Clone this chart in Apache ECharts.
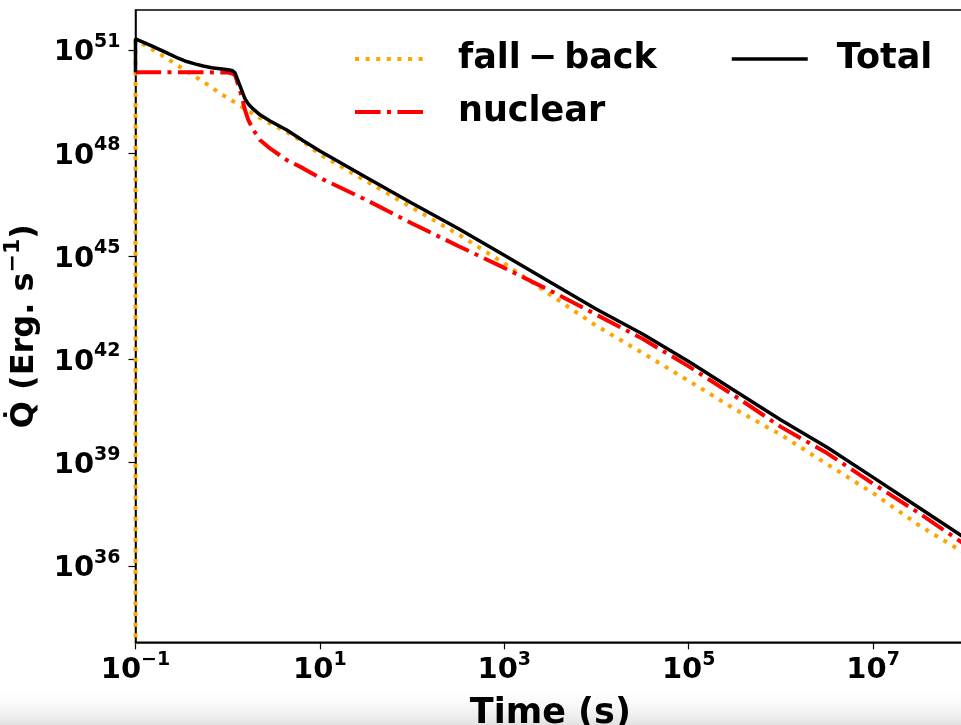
<!DOCTYPE html>
<html>
<head>
<meta charset="utf-8">
<script src="https://cdn.jsdelivr.net/npm/echarts@6/dist/echarts.min.js"></script>
<style>
  html, body { margin: 0; padding: 0; background: #fff; }
  #chart { width: 961px; height: 725px; }
</style>
</head>
<body>
<div id="chart"></div>
<script>
  // fall-back heating
  const fallTime = [0.1, 0.1, 0.107, 0.156, 0.218, 0.344, 0.543, 0.824, 1.15, 1.61, 2.24, 4.37, 7.2, 10, 31.6, 100, 316, 1e3, 3.16e3, 1e4, 3.16e4, 1e5, 3.16e5, 1e6, 3.16e6, 1e7, 3.16e7, 1e8]
  const fallQ = [1e33, 1.9e51, 1.75e51, 1.0e51, 5.7e50, 2.6e50, 1.2e50, 5.5e49, 3.2e49, 1.8e49, 1.05e49, 4.1e48, 1.8e48, 9.2e47, 1.55e47, 2.6e46, 4.4e45, 6.2e44, 7.6e43, 9.5e42, 1.55e42, 2.4e41, 3.6e40, 6.5e39, 9.1e38, 1.3e38, 1.5e37, 2.3e36]

  // nuclear heating
  const nucTime = [0.1, 0.5, 1.0, 1.1, 1.2, 1.3, 1.42, 1.54, 1.67, 1.9, 2.24, 2.88, 4.37, 6.6, 10, 31.6, 100, 316, 1e3, 3.16e3, 1e4, 3.16e4, 1e5, 3.16e5, 1e6, 3.16e6, 1e7, 3.16e7, 1e8]
  const nucQ = [2.25e50, 2.25e50, 2.2e50, 2.1e50, 1.87e50, 9.6e49, 4.4e49, 1.8e49, 9.3e48, 4.7e48, 2.4e48, 1.37e48, 6.3e47, 3.6e47, 1.9e47, 4.4e46, 9.0e45, 2.0e45, 4.6e44, 1.0e44, 2.0e43, 4.0e42, 6.3e41, 8.7e40, 1.1e40, 1.9e39, 2.45e38, 3.4e37, 4.1e36]

  // total
  const totTime = [0.1, 0.1, 0.156, 0.237, 0.29, 0.359, 0.44, 0.543, 0.67, 0.824, 1.06, 1.13, 1.2, 1.3, 1.42, 1.54, 1.67, 1.9, 2.24, 2.88, 4.37, 6.6, 10, 31.6, 100, 316, 1e3, 3.16e3, 1e4, 3.16e4, 1e5, 3.16e5, 1e6, 3.16e6, 1e7, 3.16e7, 1e8]
  const totQ = [2.25e50, 2.1e51, 1.25e51, 7.4e50, 5.75e50, 4.6e50, 3.95e50, 3.4e50, 3.05e50, 2.85e50, 2.6e50, 2.48e50, 2.15e50, 1.23e50, 6.7e49, 3.8e49, 2.7e49, 1.9e49, 1.3e49, 8.6e48, 4.7e48, 2.3e48, 1.15e48, 2.0e47, 3.5e46, 6.4e45, 1.08e45, 1.76e44, 2.9e43, 5.5e42, 8.7e41, 1.23e41, 1.75e40, 2.8e39, 3.75e38, 4.9e37, 6.4e36]

  // ticks
  const xTicks = [0.1, 10, 1e3, 1e5, 1e7]
  const xTickExp = ['\u22121', '1', '3', '5', '7']
  const yTicks = [1e36, 1e39, 1e42, 1e45, 1e48, 1e51]
  const yTickExp = ['36', '39', '42', '45', '48', '51']

  const font = 'DejaVu Sans'
  const chart = echarts.init(document.getElementById('chart'))

  const pairs = (xs, ys) => xs.map((x, i) => [x, ys[i]])

  const tickLabel = (ticks, exps) => (value) => {
    const e = Math.round(Math.log10(value))
    const i = ticks.findIndex(t => Math.round(Math.log10(t)) === e)
    return '{b|10}{s|' + (i >= 0 ? exps[i] : e) + '}'
  }

  const powRich = {
    b: { fontFamily: font, fontWeight: 'bold', fontSize: 29, lineHeight: 30, color: '#000', verticalAlign: 'bottom' },
    s: { fontFamily: font, fontWeight: 'bold', fontSize: 19, lineHeight: 20, color: '#000', verticalAlign: 'bottom', padding: [0, 0, 16, 0] }
  }

  const legendText = { fontFamily: font, fontWeight: 'bold', fontSize: 35, color: '#000', lineHeight: 40 }

  const option = {
    animation: false,
    backgroundColor: '#fff',
    graphic: [{
      type: 'rect',
      z: -10,
      shape: { x: 0, y: 686, width: 961, height: 39 },
      style: {
        fill: new echarts.graphic.LinearGradient(0, 0, 0, 1, [
          { offset: 0, color: 'rgba(255,255,255,0)' },
          { offset: 1, color: '#e2e2e2' }
        ])
      }
    }],
    grid: {
      left: 135.5, right: -4.3, top: 10, bottom: 82.7,
      outerBoundsMode: 'none',
      containLabel: false,
      show: true, borderColor: '#000', borderWidth: 1.5, backgroundColor: 'transparent'
    },
    legend: [
      {
        data: ['fall\u2009\u2212\u2009back', 'nuclear'],
        orient: 'vertical',
        left: 353, top: 39,
        padding: 0,
        itemWidth: 68, itemHeight: 20, itemGap: 13,
        selectedMode: false,
        itemStyle: { opacity: 0 },
        lineStyle: { width: 4 },
        textStyle: Object.assign({ padding: [0, 0, 0, 30] }, legendText)
      },
      {
        data: ['Total'],
        orient: 'vertical',
        left: 730, top: 39,
        padding: 0,
        itemWidth: 76, itemHeight: 20,
        selectedMode: false,
        itemStyle: { opacity: 0 },
        lineStyle: { width: 3.5 },
        textStyle: Object.assign({ padding: [0, 0, 0, 24] }, legendText)
      }
    ],
    xAxis: {
      type: 'log', logBase: 10, min: 0.1, max: 1e8,
      name: 'Time (s)', nameLocation: 'middle', nameGap: 54,
      nameTextStyle: { fontFamily: font, fontWeight: 'bold', fontSize: 35, color: '#000' },
      axisLine: { lineStyle: { color: '#000', width: 1.5 } },
      axisTick: { customValues: xTicks, length: 7, lineStyle: { color: '#000', width: 1.2 } },
      axisLabel: { customValues: xTicks, margin: 8, padding: [5, 0, 0, 0], formatter: tickLabel(xTicks, xTickExp), rich: powRich },
      splitLine: { show: false },
      minorTick: { show: false }
    },
    yAxis: {
      type: 'log', logBase: 10, min: 6.0e33, max: 1.45e52,
      name: '{t|Q\u0307 (Erg. s}{s|\u22121}{t|)}', nameLocation: 'middle', nameGap: 95, nameRotate: 90,
      nameTextStyle: {
        rich: {
          t: { fontFamily: font, fontWeight: 'bold', fontSize: 32, lineHeight: 34, color: '#000', verticalAlign: 'bottom' },
          s: { fontFamily: font, fontWeight: 'bold', fontSize: 22, lineHeight: 22, color: '#000', verticalAlign: 'bottom', padding: [0, 0, 16, 0] }
        }
      },
      axisLine: { lineStyle: { color: '#000', width: 1.5 } },
      axisTick: { customValues: yTicks, length: 7, lineStyle: { color: '#000', width: 1.2 } },
      axisLabel: { customValues: yTicks, margin: 15, padding: [5, 0, 0, 0], formatter: tickLabel(yTicks, yTickExp), rich: powRich },
      splitLine: { show: false },
      minorTick: { show: false }
    },
    series: [
      {
        name: 'fall\u2009\u2212\u2009back',
        type: 'line',
        data: pairs(fallTime, fallQ),
        symbol: 'none',
        z: 2,
        lineStyle: { color: '#FFA500', width: 4, type: [4, 6.6], cap: 'butt' },
        itemStyle: { color: '#FFA500' }
      },
      {
        name: 'nuclear',
        type: 'line',
        data: pairs(nucTime, nucQ),
        symbol: 'none',
        z: 3,
        lineStyle: { color: '#FF0000', width: 4, type: [25.6, 6.4, 4, 6.4], cap: 'butt' },
        itemStyle: { color: '#FF0000' }
      },
      {
        name: 'Total',
        type: 'line',
        data: pairs(totTime, totQ),
        symbol: 'none',
        z: 4,
        lineStyle: { color: '#000', width: 3.5 },
        itemStyle: { color: '#000' }
      }
    ]
  }

  chart.setOption(option)
</script>
</body>
</html>
